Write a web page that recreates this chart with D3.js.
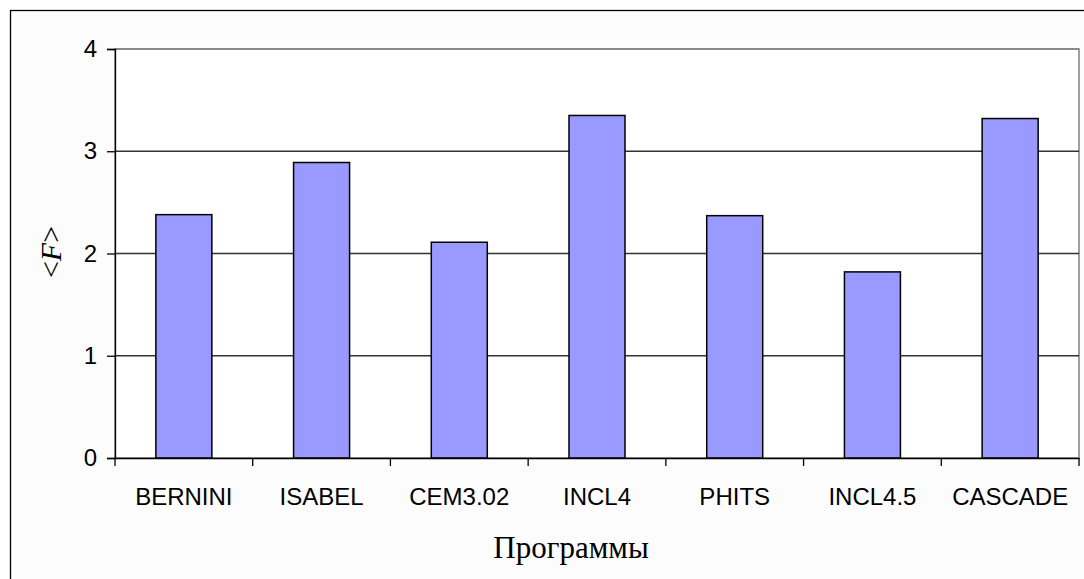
<!DOCTYPE html>
<html>
<head>
<meta charset="utf-8">
<script src="https://cdn.jsdelivr.net/npm/d3@7"></script>
<style>
  body { margin: 0; background: #fff; }
  svg { display: block; }
</style>
</head>
<body>
<svg></svg>
<script>
let width = 1084,
    height = 579,
    svg = d3.select("svg")
        .attr("width", width)
        .attr("height", height)

// data
let programs = ["BERNINI", "ISABEL", "CEM3.02", "INCL4", "PHITS", "INCL4.5", "CASCADE"];
let meanF = [2.38, 2.89, 2.11, 3.35, 2.37, 1.82, 3.32];
let yTicks = [0, 1, 2, 3, 4];

let plot = {left: 115, right: 1079, top: 49, bottom: 458};
let barWidth = 56;

// outer chart area
svg.append("rect")
    .attr("x", 10.5).attr("y", 10.5)
    .attr("width", width + 20).attr("height", height + 20)
    .attr("fill", "#fcfcfc")
    .attr("stroke", "#000")
    .attr("stroke-width", 1.3)

// plot area
svg.append("rect")
    .attr("x", plot.left).attr("y", plot.top)
    .attr("width", plot.right - plot.left).attr("height", plot.bottom - plot.top)
    .attr("fill", "#fff")
    .attr("stroke", "#808080")
    .attr("stroke-width", 1.5)

let xCat = d3.scaleBand()
    .domain(programs)
    .range([plot.left, plot.right])

let y = d3.scaleLinear()
    .domain([0, 4])
    .range([plot.bottom, plot.top])

// gridlines
svg.append("g")
    .selectAll("line")
    .data(yTicks.filter(t => t > 0))
    .enter().append("line")
    .attr("x1", plot.left).attr("x2", plot.right)
    .attr("y1", d => y(d)).attr("y2", d => y(d))
    .attr("stroke", d => d === 4 ? "#808080" : "#333")
    .attr("stroke-width", 1.3)

// bars
svg.append("g")
    .selectAll("rect")
    .data(programs)
    .enter().append("rect")
    .attr("x", (d) => xCat(d) + (xCat.bandwidth() - barWidth) / 2)
    .attr("y", (d, i) => y(meanF[i]))
    .attr("width", barWidth)
    .attr("height", (d, i) => y(0) - y(meanF[i]))
    .attr("fill", "#9999ff")
    .attr("stroke", "#000")
    .attr("stroke-width", 1.5)

// y axis
let yAxis = svg.append("g")
    .attr("transform", "translate(" + plot.left + ",0)")
    .call(d3.axisLeft(y).tickValues(yTicks).tickSize(8).tickPadding(10).tickFormat(d3.format("d")))
yAxis.select(".domain").attr("stroke", "#000").attr("stroke-width", 1.3)
yAxis.selectAll(".tick line").attr("stroke", "#000").attr("stroke-width", 1.3)
yAxis.selectAll("text")
    .attr("font-family", "Liberation Sans, Arial, sans-serif")
    .attr("font-size", 24)
    .attr("fill", "#000")

// x axis
let xAxis = svg.append("g")
    .attr("transform", "translate(0," + plot.bottom + ")")
    .call(d3.axisBottom(xCat).tickSize(0).tickPadding(30))
xAxis.select(".domain").attr("stroke", "#000").attr("stroke-width", 1.3)
xAxis.selectAll("text")
    .attr("font-family", "Liberation Sans, Arial, sans-serif")
    .attr("font-size", 24)
    .attr("fill", "#000")

// tick marks between categories
svg.append("g")
    .selectAll("line")
    .data(programs.concat(["end"]))
    .enter().append("line")
    .attr("x1", (d, i) => plot.left + i * xCat.step())
    .attr("x2", (d, i) => plot.left + i * xCat.step())
    .attr("y1", plot.bottom).attr("y2", plot.bottom + 8)
    .attr("stroke", "#000")
    .attr("stroke-width", 1.3)

// axis titles
svg.append("text")
    .attr("x", 571).attr("y", 558)
    .attr("text-anchor", "middle")
    .attr("font-family", "Liberation Serif, Times New Roman, serif")
    .attr("font-size", 31)
    .text("Программы")

let yTitle = svg.append("text")
    .attr("transform", "translate(61,252) rotate(-90)")
    .attr("text-anchor", "middle")
    .attr("font-family", "Liberation Serif, Times New Roman, serif")
    .attr("font-size", 30)
yTitle.append("tspan").text("<")
yTitle.append("tspan").attr("font-style", "italic").text("F")
yTitle.append("tspan").text(">")
</script>
</body>
</html>
